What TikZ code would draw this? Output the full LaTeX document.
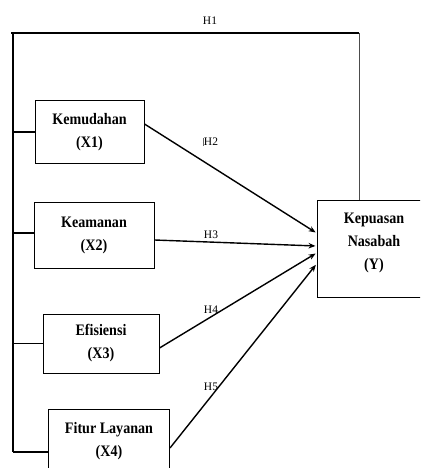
\documentclass[tikz,border=0pt]{standalone}
\usepackage{fontspec}
\setmainfont{Liberation Serif}
\newfontfamily\boxfont[FakeStretch=0.88]{Liberation Serif}
\usepackage{tikz}
\usetikzlibrary{arrows.meta}

\begin{document}
\begin{tikzpicture}[x=1pt, y=-1pt]
            \tikzset{
                var_node/.style={draw, shape = rectangle, line width=1pt, align=center,
                    inner sep=0pt, font=\boxfont\bfseries\fontsize{16}{23}\selectfont},
                hyp/.style={font=\fontsize{11.5}{13}\selectfont, inner sep=0pt},
                bus/.style={line width=1.8pt},
                path_arrow/.style={-{Stealth[length=7pt, width=5.5pt]}, line width=1.4pt, shorten >=1pt}
            }
            \useasboundingbox (0,0) rectangle (420,468);
            \clip (0,0) rectangle (420,468);
            \node[var_node, minimum width=109pt, minimum height=62pt] (X1) at (89.5,132) {Kemudahan\\(X1)};
            \node[var_node, minimum width=120pt, minimum height=66pt] (X2) at (94,235) {Keamanan\\(X2)};
            \node[var_node, minimum width=116pt, minimum height=59pt] (X3) at (101,343.5) {Efisiensi\\(X3)};
            \node[var_node, minimum width=121pt, minimum height=64pt] (X4) at (109,441) {Fitur Layanan\\(X4)};
            \node[var_node, minimum width=114pt, minimum height=97pt, text depth=14pt] (Y) at (374,248.5) {Kepuasan\\Nasabah\\(Y)};
            \coordinate (top_left) at (11,33);
            \coordinate (bus_top) at (13,33);
            \coordinate (bus_bottom) at (13,452);
            \coordinate (top_right) at (359,33);
            % H1 frame
            \draw[bus] (top_left) -- (top_right);
            \draw[bus] (bus_top) -- (bus_bottom);
            \draw[line width=0.7pt, black!70] (top_right) -- (top_right |- Y.north);
            \draw[bus] (bus_top |- X1.west) -- (X1.west);
            \draw[bus] ([yshift=2pt]bus_top |- X2.west) -- ([yshift=2pt]X2.west);
            \draw[bus] (bus_top |- X3.west) -- (X3.west);
            \draw[bus] (bus_bottom) -- ([yshift=-11pt]X4.west);
            % H2 - H5
            \path ([yshift=8pt]X1.east) edge[path_arrow] ([yshift=15.5pt]Y.west);
            \path ([yshift=-5pt]X2.east) edge[path_arrow] ([yshift=2.5pt]Y.west);
            \path ([yshift=-4.5pt]X3.east) edge[path_arrow] ([yshift=-4.5pt]Y.west);
            \path ([yshift=-7pt]X4.east) edge[path_arrow] ([yshift=-15.5pt]Y.west);
            \node[hyp] (H1) at (210,21) {H1};
            \node[hyp] (H2) at (211,142) {H2};
            \node[hyp] (H3) at (211,235) {H3};
            \node[hyp] (H4) at (211,310) {H4};
            \node[hyp] (H5) at (211,387) {H5};
            \draw[line width=0.5pt, black!60] ([xshift=-1pt]H2.north west) -- ([xshift=-1pt]H2.south west);
        \end{tikzpicture}
\end{document}
